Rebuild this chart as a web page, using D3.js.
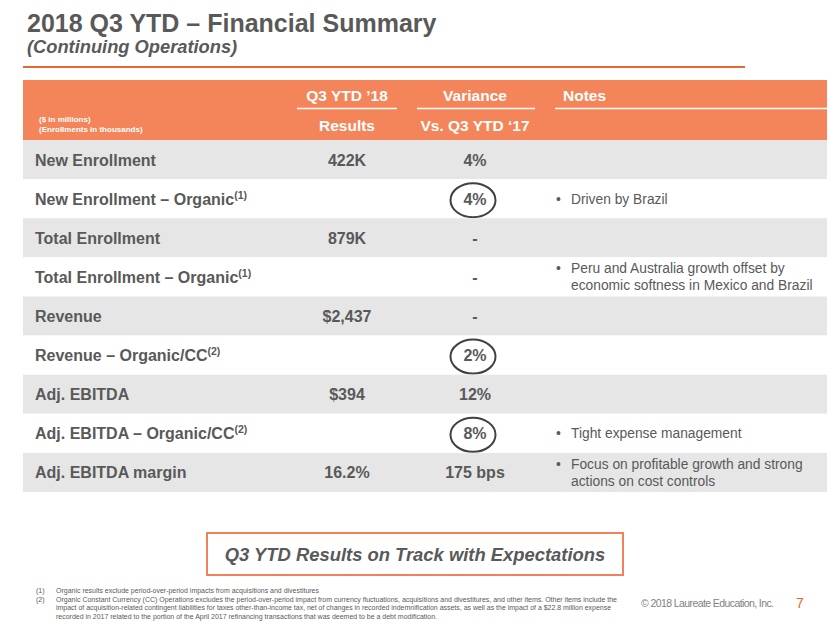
<!DOCTYPE html>
<html><head><meta charset="utf-8">
<script src="https://cdn.jsdelivr.net/npm/d3@7"></script>
<style>body{margin:0;background:#fff}svg{display:block}</style>
</head><body>
<svg id="c" width="830" height="623"></svg>
<script>
const metrics = ["New Enrollment", "New Enrollment – Organic", "Total Enrollment", "Total Enrollment – Organic", "Revenue", "Revenue – Organic/CC", "Adj. EBITDA", "Adj. EBITDA – Organic/CC", "Adj. EBITDA margin"];
const footnoteRefs = ["", "(1)", "", "(1)", "", "(2)", "", "(2)", ""];
const results = ["422K", "", "879K", "", "$2,437", "", "$394", "", "16.2%"];
const variance = ["4%", "4%", "-", "-", "-", "2%", "12%", "8%", "175 bps"];
const circled = [false, true, false, false, false, true, false, true, false];
const notes = [[], ["Driven by Brazil"], [], ["Peru and Australia growth offset by", "economic softness in Mexico and Brazil"], [], [], [], ["Tight expense management"], ["Focus on profitable growth and strong", "actions on cost controls"]];
const headerTop = ["Q3 YTD ’18", "Variance", "Notes"];
const headerBottom = ["Results", "Vs. Q3 YTD ‘17", ""];
const unitsNote = ["($ in millions)", "(Enrollments in thousands)"];
const footnoteMarks = ["(1)", "(2)", "", ""];
const footnoteLines = [
  "Organic results exclude period-over-period  impacts from acquisitions and divestitures",
  "Organic Constant Currency (CC) Operations excludes the period-over-period  impact from currency fluctuations, acquisitions and divestitures, and other items. Other items include the",
  "impact of acquisition-related contingent liabilities for taxes other-than-income tax, net of changes in recorded indemnification assets, as well as the impact of a $22.8 million expense",
  "recorded in 2017 related to the portion of the April 2017 refinancing transactions that was deemed to be a debt modification."
];
const title = "2018 Q3 YTD – Financial Summary";
const subtitle = "(Continuing Operations)";
const callout = "Q3 YTD Results on Track with Expectations";
const copyright = "© 2018 Laureate Education, Inc.";
const pageNumber = "7";

const FONT = "'Liberation Sans', Arial, Helvetica, sans-serif";
const GRAY = "#595959";
const ORANGE = "#F4855A";
const svg = d3.select("#c").style("font-family", FONT);

// Title
svg.append("text").attr("x", 27).attr("y", 32).attr("font-size", 25).attr("font-weight", "bold").attr("fill", GRAY).text(title);
svg.append("text").attr("x", 27).attr("y", 53).attr("font-size", 18.3).attr("font-weight", "bold").attr("font-style", "italic").attr("fill", GRAY).text(subtitle);
svg.append("line").attr("x1", 23).attr("x2", 745).attr("y1", 67).attr("y2", 67).attr("stroke", "#E8662F").attr("stroke-width", 2);

// scales
const tableLeft = 23, tableRight = 827;
const y = d3.scaleBand().domain(d3.range(metrics.length)).range([140, 492]);
const col = d3.scaleOrdinal().domain(["label", "results", "variance", "notes"]).range([35, 347, 475, 556]);

// header band
svg.append("rect").attr("x", tableLeft).attr("y", 80).attr("width", tableRight - tableLeft).attr("height", 60).attr("fill", ORANGE);
const hdrX = [col("results"), col("variance"), col("notes") + 7];
const hdrAnchor = ["middle", "middle", "start"];
const underline = [[297, 397], [417, 535], [555, 827]];
headerTop.forEach((t, i) => {
  svg.append("text").attr("x", hdrX[i]).attr("y", 101).attr("text-anchor", hdrAnchor[i])
    .attr("font-size", 15.5).attr("font-weight", "bold").attr("fill", "#fff").text(t);
  svg.append("line").attr("x1", underline[i][0]).attr("x2", underline[i][1]).attr("y1", 108.5).attr("y2", 108.5)
    .attr("stroke", "#fff").attr("stroke-width", 1.5);
  if (headerBottom[i]) svg.append("text").attr("x", hdrX[i]).attr("y", 131).attr("text-anchor", hdrAnchor[i])
    .attr("font-size", 15.5).attr("font-weight", "bold").attr("fill", "#fff").text(headerBottom[i]);
});
unitsNote.forEach((t, i) => {
  svg.append("text").attr("x", 39).attr("y", 122 + i * 10).attr("font-size", 8).attr("font-weight", "bold").attr("fill", "#fff").text(t);
});

// rows
const rows = svg.selectAll("g.row").data(metrics.map((m, i) => ({ i, m, sup: footnoteRefs[i], r: results[i], v: variance[i], c: circled[i], n: notes[i] })))
  .join("g").attr("class", "row").attr("transform", d => `translate(0,${y(d.i)})`);
const bh = y.bandwidth();
rows.append("rect").attr("x", tableLeft).attr("width", tableRight - tableLeft).attr("height", bh)
  .attr("fill", d => d.i % 2 === 0 ? "#E6E6E6" : "#fff");
const lbl = rows.append("text").attr("x", col("label")).attr("y", bh / 2 + 6).attr("font-size", 16).attr("font-weight", "bold").attr("fill", GRAY);
lbl.append("tspan").text(d => d.m);
lbl.filter(d => d.sup).append("tspan").attr("dy", -6).attr("font-size", 10.5).text(d => d.sup);
rows.append("text").attr("x", col("results")).attr("y", bh / 2 + 6).attr("text-anchor", "middle").attr("font-size", 16).attr("font-weight", "bold").attr("fill", GRAY).text(d => d.r);
rows.append("text").attr("x", col("variance")).attr("y", bh / 2 + 6).attr("text-anchor", "middle").attr("font-size", 16).attr("font-weight", "bold").attr("fill", GRAY).text(d => d.v);
rows.filter(d => d.c).append("ellipse").attr("cx", col("variance") - 2).attr("cy", bh / 2 + 1.5).attr("rx", 22.5).attr("ry", 17)
  .attr("fill", "none").attr("stroke", "#404040").attr("stroke-width", 2);
rows.each(function (d) {
  const g = d3.select(this);
  const n = d.n.length;
  if (!n) return;
  const base = n === 1 ? bh / 2 + 5 : bh / 2 - 3.5;
  g.append("text").attr("x", col("notes")).attr("y", base).attr("font-size", 13.8).attr("fill", GRAY).text("•");
  d.n.forEach((t, k) => g.append("text").attr("x", col("notes") + 15).attr("y", base + k * 17).attr("font-size", 13.8).attr("fill", GRAY).text(t));
});

// callout
svg.append("rect").attr("x", 207).attr("y", 533).attr("width", 416).attr("height", 42).attr("fill", "#fff").attr("stroke", "#F0825A").attr("stroke-width", 2);
svg.append("text").attr("x", 415).attr("y", 561).attr("text-anchor", "middle").attr("font-size", 18.4).attr("font-weight", "bold").attr("font-style", "italic").attr("fill", GRAY).text(callout);

// footnotes
const fnLen = [263, 561, 555, 381];
footnoteLines.forEach((t, i) => {
  const yy = 593 + i * 8.6;
  if (footnoteMarks[i]) svg.append("text").attr("x", 36).attr("y", yy).attr("font-size", 7).attr("fill", GRAY).text(footnoteMarks[i]);
  svg.append("text").attr("x", 56).attr("y", yy).attr("font-size", 7).attr("fill", GRAY)
    .attr("textLength", fnLen[i]).attr("lengthAdjust", "spacingAndGlyphs").text(t);
});
svg.append("text").attr("x", 641).attr("y", 607).attr("font-size", 10.5).attr("fill", "#7F7F7F")
  .attr("textLength", 133).attr("lengthAdjust", "spacing").text(copyright);
svg.append("text").attr("x", 796).attr("y", 608).attr("font-size", 14).attr("fill", "#E8662F").text(pageNumber);
</script>
</body></html>
